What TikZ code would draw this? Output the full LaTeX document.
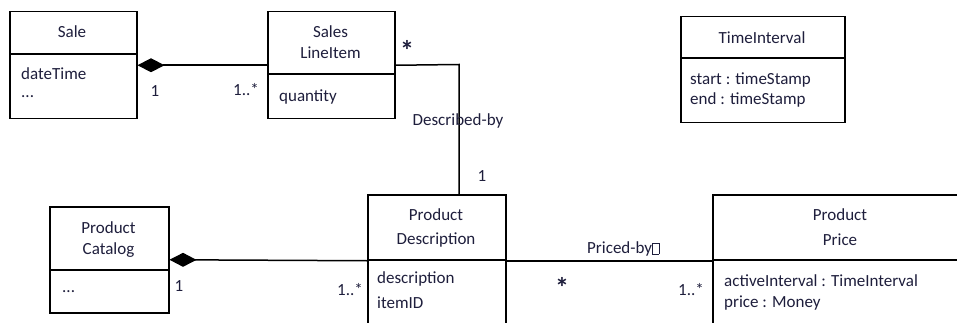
\documentclass[tikz,border=0pt]{standalone}
\usepackage{fontspec}
\setmainfont{Carlito}
\usetikzlibrary{arrows.meta}
\definecolor{txt}{RGB}{30,30,60}
\begin{document}
\begin{tikzpicture}[x=1pt,y=-1pt,
  cls/.style={draw, line width=1.5pt, inner sep=0pt, anchor=north west},
  lbl/.style={text=txt, font=\fontsize{17}{20}\selectfont, inner sep=0pt},
  attr/.style={lbl, anchor=west},
  ttl/.style={lbl},
  star/.style={lbl, font=\fontsize{28}{28}\selectfont\bfseries},
  ln/.style={line width=1.5pt},
  comp/.style={ln, {Diamond[length=27pt,width=14pt]}-}]
\useasboundingbox (0,0) rectangle (957,323);
\clip (0,0) rectangle (957,323);
\fill[white] (0,0) rectangle (957,323);

% Sale
\node[cls, minimum width=127pt, minimum height=107pt] (sale) at (9,11) {};
\draw[ln] (9,54) -- (136,54);
\node[ttl] (saleT) at (72,32) {Sale};
\node[attr] (saleA1) at (21,74) {dateTime};
\node[attr] (saleA2) at (21,97) {...};

% Sales LineItem
\node[cls, minimum width=127pt, minimum height=107pt] (sli) at (267,11) {};
\draw[ln] (267,74) -- (394,74);
\node[ttl] (sliT1) at (330.5,32) {Sales};
\node[ttl] (sliT2) at (330.5,53) {LineItem};
\node[attr] (sliA1) at (279,97) {quantity};

% TimeInterval
\node[cls, minimum width=164pt, minimum height=106pt] (ti) at (680,16) {};
\draw[ln] (680,58) -- (844,58);
\node[ttl] (tiT) at (762,38) {TimeInterval};
\node[attr] (tiA1) at (690,80) {start : timeStamp};
\node[attr] (tiA2) at (690,100) {end : timeStamp};

% Product Catalog
\node[cls, minimum width=119pt, minimum height=106pt] (pc) at (49,206) {};
\draw[ln] (49,270) -- (168,270);
\node[ttl] (pcT1) at (108.5,228) {Product};
\node[ttl] (pcT2) at (108.5,250) {Catalog};
\node[attr] (pcA1) at (62,292) {...};

% Product Description
\node[cls, minimum width=138pt, minimum height=132pt] (pd) at (367,194) {};
\draw[ln] (367,260) -- (505,260);
\node[ttl] (pdT1) at (436,215) {Product};
\node[ttl] (pdT2) at (436,240) {Description};
\node[attr] (pdA1) at (377,279) {description};
\node[attr] (pdA2) at (377,303) {itemID};

% Product Price
\node[cls, minimum width=260pt, minimum height=132pt] (pp) at (712,194) {};
\draw[ln] (712,260) -- (972,260);
\node[ttl] (ppT1) at (840,215) {Product};
\node[ttl] (ppT2) at (840,240) {Price};
\node[attr] (ppA1) at (724,281) {activeInterval : TimeInterval};
\node[attr] (ppA2) at (724,303) {price : Money};

% Sale -- SalesLineItem
\draw[comp] (sale.east) -- (sli.west);
\node[lbl] (m1) at (155,91) {1};
\node[lbl, anchor=east] (m2) at (259,90) {1..*};

% SalesLineItem -- ProductDescription
\coordinate (bend) at (459,64.5);
\draw[ln] (sli.east) -- (bend) -- (bend |- pd.north);
\node[star] (m3) at (407,50) {*};
\node[lbl] (desc) at (458,121) {Described-by};
\node[lbl] (m4) at (482,176) {1};

% ProductCatalog -- ProductDescription
\draw[comp] (pc.east) -- (pd.west);
\node[lbl] (m5) at (179,286) {1};
\node[lbl, anchor=east] (m6) at (363,290) {1..*};

% ProductDescription -- ProductPrice
\draw[ln] (pd.east) -- (pp.west |- pd.east);
\node[lbl, anchor=west] (priced) at (587,249) {Priced-by{\setlength\fboxsep{0pt}\setlength\fboxrule{0.4pt}\fbox{\phantom{\rule{6pt}{10pt}}}}};
\node[star] (m7) at (562,287) {*};
\node[lbl, anchor=east] (m8) at (704,290) {1..*};
\end{tikzpicture}
\end{document}
